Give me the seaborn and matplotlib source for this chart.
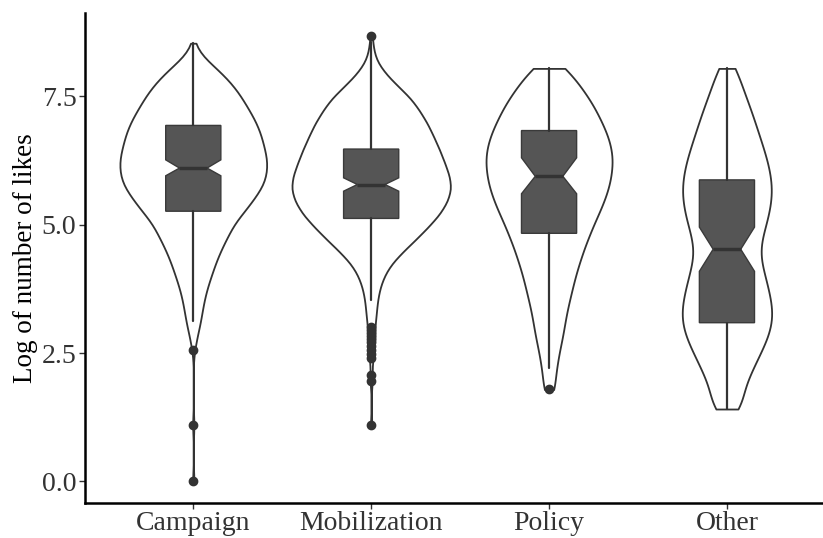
import matplotlib.pyplot as plt
import seaborn as sns
import numpy as np
import pandas as pd

sns.set_theme(style="ticks")
plt.rcParams['font.family'] = ['Liberation Serif', 'DejaVu Serif']

# Categories on the x axis
categories = ["Campaign", "Mobilization", "Policy", "Other"]

# Violin samples: log(likes) values with how often they occur
campaign_vals = [0.0, 1.10, 2.56, 2.78, 3.03, 3.28, 3.53, 3.78, 4.03, 4.28, 4.53, 4.78, 5.03, 5.28,
                 5.53, 5.78, 6.03, 6.28, 6.53, 6.78, 7.03, 7.28, 7.53, 7.78, 8.03, 8.28, 8.53]
campaign_cnt = [1, 1, 1, 3, 6, 8, 10, 13, 17, 21, 26, 32, 38, 48,
                57, 65, 68, 68, 65, 62, 57, 50, 43, 34, 22, 8, 1]

mobil_vals = [1.10, 1.95, 2.08, 2.40, 2.48, 2.56, 2.64, 2.71, 2.77, 2.83, 2.89, 2.94, 3.00,
              3.20, 3.45, 3.70, 3.95, 4.20, 4.45, 4.70, 4.95, 5.20, 5.45, 5.70, 5.95, 6.20,
              6.45, 6.70, 6.95, 7.20, 7.45, 7.70, 7.95, 8.20, 8.45, 8.68]
mobil_cnt = [1, 1, 1, 1, 1, 1, 1, 1, 1, 1, 1, 1, 1,
             5, 6, 8, 12, 19, 31, 45, 58, 70, 78, 82, 80, 75,
             70, 64, 58, 50, 41, 27, 14, 5, 2, 1]

policy_vals = [1.79, 2.04, 2.29, 2.54, 2.79, 3.04, 3.29, 3.54, 3.79, 4.04, 4.29, 4.54, 4.79,
               5.04, 5.29, 5.54, 5.79, 6.04, 6.29, 6.54, 6.79, 7.04, 7.29, 7.54, 7.79, 8.04]
policy_cnt = [6, 6, 8, 10, 13, 15, 17, 20, 23, 26, 30, 34, 39,
              44, 50, 55, 59, 61, 62, 60, 56, 50, 44, 36, 27, 17]

other_vals = [1.41, 1.54, 1.79, 2.04, 2.29, 2.54, 2.79, 3.04, 3.29, 3.54, 3.79, 4.04, 4.29, 4.54,
              4.79, 5.04, 5.29, 5.54, 5.79, 6.04, 6.29, 6.54, 6.79, 7.04, 7.29, 7.54, 7.79, 8.04]
other_cnt = [10, 12, 16, 21, 27, 33, 39, 43, 44, 42, 39, 36, 32, 31,
             34, 38, 41, 43, 43, 41, 38, 34, 30, 26, 22, 17, 13, 9]

# Box statistics
box_q1 = [5.26, 5.12, 4.83, 3.09]
box_med = [6.10, 5.78, 5.94, 4.52]
box_q3 = [6.93, 6.47, 6.83, 5.87]
box_lo = [3.13, 3.53, 2.20, 1.41]
box_hi = [8.53, 8.56, 8.04, 8.04]
notch_lo = [5.95, 5.65, 5.60, 4.09]
notch_hi = [6.26, 5.91, 6.30, 4.95]
outliers = [
    [0.0, 1.10, 2.56],
    [1.10, 1.95, 2.08, 2.40, 2.48, 2.56, 2.64, 2.71, 2.77, 2.83, 2.89, 2.94, 3.00, 8.68],
    [1.79],
    [],
]

samples = [(campaign_vals, campaign_cnt), (mobil_vals, mobil_cnt),
           (policy_vals, policy_cnt), (other_vals, other_cnt)]
df = pd.concat([
    pd.DataFrame({"type": cat, "likes": np.repeat(v, c)})
    for cat, (v, c) in zip(categories, samples)
])

fig = plt.figure(figsize=(8.23, 5.38), dpi=100)
ax = fig.add_axes([0.103, 0.065, 0.897, 0.911])

sns.violinplot(data=df, x="type", y="likes", order=categories, ax=ax,
               density_norm="area", cut=0, inner=None, bw_method=0.15,
               width=0.89, color="white", linecolor="#333333", linewidth=1.3,
               saturation=1)

stats = [dict(label=c, q1=box_q1[i], med=box_med[i], q3=box_q3[i],
              whislo=box_lo[i], whishi=box_hi[i], cilo=notch_lo[i],
              cihi=notch_hi[i], fliers=outliers[i])
         for i, c in enumerate(categories)]
ax.bxp(stats, positions=range(len(categories)), widths=0.31, shownotches=True,
       patch_artist=True, showcaps=False, manage_ticks=False,
       boxprops=dict(facecolor="#555555", edgecolor="#3a3a3a", linewidth=1.0),
       medianprops=dict(color="#333333", linewidth=2.5),
       whiskerprops=dict(color="#333333", linewidth=1.6),
       flierprops=dict(marker="o", markerfacecolor="#333333",
                       markeredgecolor="#333333", markersize=6))

ax.set_xlim(-0.61, 3.54)
ax.set_ylim(-0.42, 9.12)
ax.set_yticks([0, 2.5, 5.0, 7.5])
ax.set_yticklabels(["0.0", "2.5", "5.0", "7.5"])
ax.set_xticks(range(len(categories)))
ax.set_xticklabels(categories)
ax.set_xlabel("")
ax.set_ylabel("Log of number of likes", fontsize=19.5, color="black", labelpad=3)
ax.tick_params(axis="both", labelsize=20, labelcolor="#333333", color="#333333",
               length=4, width=1.0, pad=2)
sns.despine(ax=ax)
for s in ["left", "bottom"]:
    ax.spines[s].set_linewidth(1.8)
    ax.spines[s].set_color("black")

fig.savefig("out.png", dpi=100)
